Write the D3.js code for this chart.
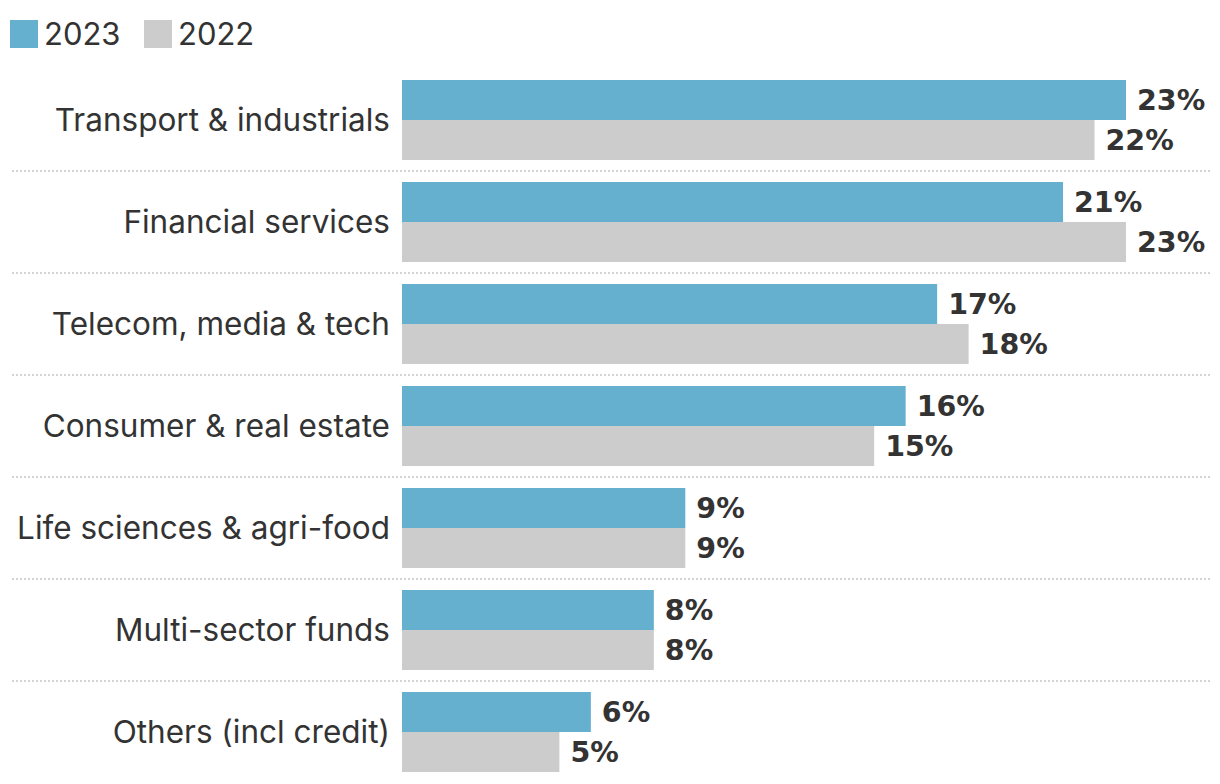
<!DOCTYPE html>
<html><head><meta charset="utf-8">
<script src="https://cdn.jsdelivr.net/npm/d3@7"></script>
<style>body{margin:0;background:#fff;} svg{display:block;}</style>
</head><body>
<svg id="chart" width="1220" height="784"></svg>
<script>
const categories = ["Transport & industrials","Financial services","Telecom, media & tech","Consumer & real estate","Life sciences & agri-food","Multi-sector funds","Others (incl credit)"];
const series = ["2023","2022"];
const values2023 = [23,21,17,16,9,8,6];
const values2022 = [22,23,18,15,9,8,5];
const colors = ["#65b0cf","#cccccc"];

const svg = d3.select("#chart");
const y = d3.scaleBand().domain(categories).range([69,783]).paddingInner(22/102).paddingOuter(11/102);
const x = d3.scaleLinear().domain([0,23]).range([402,1126]);
const inner = d3.scaleBand().domain(series).range([0,y.bandwidth()]);

// separators
svg.append("g").selectAll("line").data(categories.slice(1)).join("line")
  .attr("x1",12).attr("x2",1210)
  .attr("y1",d=>y(d)-y.step()*y.paddingInner()/2).attr("y2",d=>y(d)-y.step()*y.paddingInner()/2)
  .attr("stroke","#d4d4d4").attr("stroke-width",2).attr("stroke-dasharray","2,2");

const rows = categories.map((c,i)=>({c, vals:[values2023[i],values2022[i]]}));
const g = svg.append("g").selectAll("g").data(rows).join("g").attr("transform",d=>`translate(0,${y(d.c)})`);
g.selectAll("rect").data(d=>d.vals.map((v,j)=>({v,s:series[j],j}))).join("rect")
  .attr("x",x(0)).attr("y",d=>inner(d.s)).attr("width",d=>x(d.v)-x(0)).attr("height",inner.bandwidth())
  .attr("fill",d=>colors[d.j]);
g.selectAll("text.val").data(d=>d.vals.map((v,j)=>({v,s:series[j]}))).join("text").attr("class","val")
  .attr("x",d=>x(d.v)+11).attr("y",d=>inner(d.s)+inner.bandwidth()/2).attr("dy","0.36em")
  .attr("font-family","DejaVu Sans").attr("font-weight","bold").attr("font-size",28.5).attr("fill","#333")
  .text(d=>d.v+"%");
g.append("text").attr("class","cat").attr("x",390).attr("y",y.bandwidth()/2).attr("dy","0.36em")
  .attr("text-anchor","end").attr("font-family","Inter").attr("font-size",31.5).attr("fill","#333")
  .text(d=>d.c);

// legend
const leg = svg.append("g");
const lx = [10,144];
series.forEach((s,i)=>{
  leg.append("rect").attr("x",lx[i]).attr("y",20).attr("width",28).attr("height",28).attr("fill",colors[i]);
  leg.append("text").attr("x",lx[i]+34).attr("y",34).attr("dy","0.36em").attr("font-family","Inter").attr("font-size",31).attr("fill","#333").text(s);
});
</script>
</body></html>
